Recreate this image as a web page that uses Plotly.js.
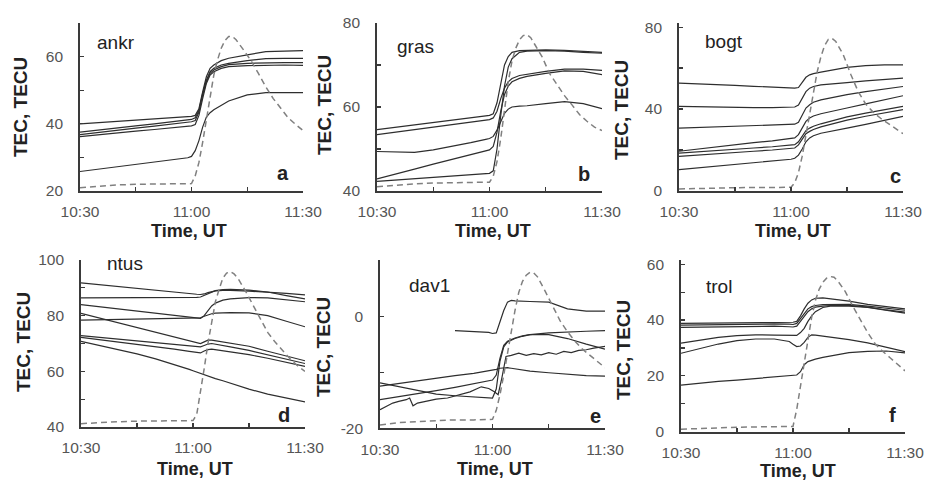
<!DOCTYPE html>
<html><head><meta charset="utf-8">
<script src="https://cdn.plot.ly/plotly-3.0.1.min.js"></script>
<style>html,body{margin:0;padding:0;background:#fff}#chart{width:927px;height:486px}</style>
</head><body><div id="chart"></div>
<script>
// ---- time axes (minutes after 10:30 UT) ----
const timeTickVals = [0, 15, 30, 45, 60];
const timeTickText = ['10:30', '', '11:00', '', '11:30'];
const tecMinutes = [0, 5, 10, 15, 20, 25, 29, 30, 31, 32, 33, 34, 35, 36, 38, 40, 45, 50, 55, 60];
const flareMinutes = [0, 5, 10, 15, 20, 25, 30, 31, 32, 33, 34, 35, 36, 37, 38, 39, 40, 41, 42, 44, 46, 48, 50, 52, 54, 56, 58, 60];
const dav1NoisyMinutes = [0, 2, 3.4, 5, 7, 7.9, 8.8, 10, 12.4, 15, 18, 21.4, 24, 27, 29, 30.5, 31.5, 32.5, 33.6, 35, 37, 39, 41, 43, 45, 47, 49, 51, 53, 55, 57, 60];

const stations = ['ankr', 'gras', 'bogt', 'ntus', 'dav1', 'trol'];
const panelLetters = ['a', 'b', 'c', 'd', 'e', 'f'];

// ---- TEC series (TECU) ----
const ankrTEC = [
  [40.0, 40.4, 40.7, 41.1, 41.4, 41.8, 42.1, 42.2, 42.5, 44.5, 49.5, 54.0, 56.5, 57.5, 58.8, 59.5, 60.5, 61.5, 61.6, 61.8],
  [37.5, 38.2, 38.8, 39.4, 40.0, 40.6, 41.1, 41.3, 41.8, 44.0, 49.0, 53.0, 55.5, 56.5, 57.5, 58.0, 58.8, 59.4, 59.5, 59.5],
  [36.8, 37.5, 38.1, 38.7, 39.3, 39.9, 40.4, 40.6, 41.0, 43.5, 48.5, 52.5, 55.0, 56.0, 57.0, 57.6, 58.0, 58.2, 58.2, 58.2],
  [36.2, 36.8, 37.3, 37.8, 38.3, 38.8, 39.2, 39.4, 39.8, 42.5, 47.5, 52.0, 54.5, 55.5, 56.5, 57.0, 57.3, 57.5, 57.5, 57.4],
  [25.8, 26.5, 27.2, 27.9, 28.5, 29.2, 29.9, 30.3, 32.0, 35.0, 39.0, 42.0, 43.3, 44.2, 45.5, 46.8, 48.6, 49.3, 49.3, 49.3]
];
const grasTEC = [
  [54.6, 55.2, 55.8, 56.4, 57.0, 57.5, 57.9, 58.0, 58.4, 61.0, 66.0, 70.0, 72.0, 73.0, 73.4, 73.5, 73.6, 73.5, 73.3, 73.0],
  [53.4, 54.0, 54.6, 55.2, 55.8, 56.4, 56.9, 57.0, 57.4, 59.0, 62.0, 64.5, 66.0, 66.8, 67.5, 67.8, 68.5, 69.0, 69.0, 68.7],
  [49.4, 49.3, 49.2, 49.8, 50.6, 51.5, 52.3, 52.5, 53.0, 54.5, 56.5, 58.5, 59.5, 60.0, 60.2, 60.3, 60.8, 61.3, 60.8, 59.6],
  [42.9, 44.0, 45.2, 46.4, 47.5, 48.6, 49.5, 49.8, 50.6, 54.0, 59.0, 63.0, 65.0, 66.0, 66.8, 67.3, 68.0, 68.6, 68.5, 67.7],
  [42.3, 42.6, 42.9, 43.2, 43.5, 43.8, 44.1, 44.2, 44.8, 50.0, 58.0, 65.0, 69.5, 71.5, 73.0, 73.3, 73.4, 73.3, 73.0, 72.8]
];
const bogtTEC = [
  [52.7, 52.4, 52.1, 51.6, 51.1, 50.7, 50.4, 50.3, 50.2, 50.5, 53.0, 55.5, 56.7, 57.3, 58.0, 58.6, 60.3, 61.2, 61.6, 61.6],
  [41.3, 41.1, 40.9, 40.8, 40.7, 40.7, 40.8, 40.8, 41.0, 42.0, 45.5, 48.5, 50.2, 51.0, 51.8, 52.2, 52.9, 53.8, 54.5, 55.1],
  [30.7, 31.0, 31.3, 31.6, 31.9, 32.1, 32.3, 32.4, 32.6, 33.5, 37.0, 40.5, 42.1, 43.3, 44.5, 45.3, 47.0, 48.5, 49.8, 51.0],
  [19.4, 20.5, 21.6, 22.6, 23.6, 24.5, 25.3, 25.5, 25.9, 27.5, 31.0, 34.0, 35.6, 36.6, 37.7, 38.6, 40.5, 42.5, 44.5, 46.5],
  [18.5, 19.2, 19.8, 20.4, 21.0, 21.6, 22.2, 22.4, 22.6, 24.0, 27.0, 29.5, 30.7, 31.6, 32.8, 33.8, 36.2, 38.0, 39.8, 41.3],
  [16.9, 17.6, 18.2, 18.8, 19.4, 20.0, 20.6, 20.8, 21.0, 22.5, 25.5, 28.0, 29.1, 30.0, 31.3, 32.3, 34.6, 36.5, 38.2, 39.7],
  [10.4, 11.2, 12.0, 12.8, 13.6, 14.4, 15.2, 15.5, 16.0, 17.5, 20.5, 24.0, 25.9, 27.0, 28.2, 29.0, 30.7, 32.5, 34.5, 36.4]
];
const ntusTEC = [
  [91.8, 91.1, 90.4, 89.7, 89.0, 88.4, 87.9, 87.8, 87.7, 87.6, 87.8, 88.3, 88.7, 88.9, 89.1, 89.1, 88.8, 88.5, 88.0, 87.5],
  [86.4, 86.4, 86.4, 86.4, 86.5, 86.5, 86.5, 86.5, 86.6, 86.7, 87.3, 88.0, 88.6, 89.0, 89.4, 89.5, 89.2, 88.5, 87.2, 86.0],
  [84.0, 83.2, 82.4, 81.6, 80.8, 80.1, 79.4, 79.2, 79.0, 79.0, 80.0, 81.8, 83.5, 84.5, 85.6, 86.0, 86.5, 86.4, 85.8, 85.0],
  [78.4, 78.5, 78.6, 78.7, 78.8, 78.9, 79.0, 79.0, 79.0, 79.2, 79.8, 80.3, 80.7, 80.9, 81.0, 81.1, 81.0, 80.0, 78.0, 76.0],
  [80.8, 79.1, 77.4, 75.7, 74.0, 72.3, 70.9, 70.5, 70.2, 70.0, 70.6, 71.2, 71.2, 71.0, 70.6, 70.2, 69.0, 67.2, 65.5, 63.8],
  [72.8, 72.2, 71.6, 71.0, 70.4, 69.8, 69.2, 69.0, 68.9, 68.8, 69.3, 69.8, 70.0, 69.8, 69.3, 68.8, 67.5, 66.0, 64.4, 62.8],
  [72.2, 71.4, 70.5, 69.6, 68.8, 68.0, 67.2, 67.0, 66.8, 66.6, 67.3, 67.8, 68.0, 67.8, 67.4, 67.0, 66.0, 64.7, 63.3, 61.8],
  [70.8, 69.3, 67.7, 66.3, 64.5, 62.5, 60.7, 60.2, 59.7, 59.3, 58.8, 58.3, 57.9, 57.4, 56.6, 55.7, 53.6, 51.8, 50.3, 49.0]
];
const dav1TEC = [
  [null, null, null, null, -2.6, -2.7, -2.9, -3.1, -3.0, -1.0, 1.0, 2.5, 2.8, 2.7, 2.6, 2.6, 2.5, 1.3, 0.9, 0.9],
  [-11.9, -12.6, -13.3, -13.9, -14.2, -14.4, -14.6, -14.6, -13.0, -8.0, -5.5, -4.6, -4.3, -4.0, -3.6, -3.3, -3.0, -2.8, -2.7, -2.6],
  [-14.9, -14.4, -13.9, -13.3, -12.7, -12.1, -11.6, -11.4, -10.5, -7.5, -5.2, -4.5, -4.2, -3.9, -3.5, -3.3, -3.3, -4.0, -5.0, -5.9],
  [-12.5, -12.0, -11.5, -11.0, -10.6, -10.2, -9.8, -9.7, -9.5, -9.3, -9.2, -9.2, -9.3, -9.4, -9.6, -9.8, -10.1, -10.4, -10.6, -10.7]
];
const dav1NoisyTEC = [-16.7, -16.0, -15.5, -15.2, -14.9, -14.6, -16.0, -15.5, -15.2, -14.8, -14.6, -14.0, -13.5, -12.6, -12.9, -13.5, -14.0, -11.0, -7.2, -7.0, -6.6, -7.0, -6.7, -6.9, -6.5, -6.8, -6.3, -6.5, -6.1, -6.0, -5.7, -5.4];
const trolTEC = [
  [38.8, 38.9, 39.0, 39.1, 39.2, 39.3, 39.3, 39.2, 39.5, 41.5, 44.0, 46.0, 47.2, 47.8, 47.9, 47.6, 46.8, 45.6, 44.7, 44.0],
  [38.2, 38.3, 38.4, 38.5, 38.6, 38.6, 38.5, 38.4, 38.8, 40.5, 42.5, 44.0, 44.8, 45.2, 45.5, 45.6, 45.6, 45.0, 44.2, 43.5],
  [37.4, 37.5, 37.6, 37.7, 37.8, 37.8, 37.6, 37.5, 37.8, 39.5, 41.5, 43.0, 44.0, 44.6, 45.0, 45.2, 45.3, 44.6, 43.6, 42.8],
  [31.7, 32.8, 33.8, 34.4, 34.7, 34.6, 34.4, 34.3, 34.5, 35.5, 37.0, 39.5, 41.5, 43.0, 44.5, 45.0, 45.0, 44.5, 43.5, 42.5],
  [28.1, 29.8, 31.4, 32.6, 33.2, 33.2, 32.3, 31.3, 30.5, 30.7, 32.0, 33.8, 34.7, 34.6, 34.3, 34.0, 33.0, 31.8, 30.3, 28.7],
  [16.7, 17.4, 18.0, 18.5, 19.0, 19.5, 19.9, 20.0, 20.3, 21.5, 24.0, 25.1, 25.6, 26.0, 26.6, 27.1, 28.3, 28.8, 28.9, 28.2]
];

// ---- flare profile (dashed), scaled to each panel ----
const ankrFlare = [21.0, 21.5, 21.8, 22.0, 22.0, 22.1, 22.2, 24.5, 28.5, 34.5, 41.5, 48.5, 54.5, 59.0, 62.5, 64.8, 66.0, 66.0, 65.0, 62.0, 58.8, 55.0, 51.0, 47.5, 44.5, 41.8, 39.8, 38.0];
const grasFlare = [41.0, 41.4, 41.7, 41.9, 42.0, 42.0, 42.1, 43.5, 47.0, 52.5, 59.0, 66.0, 71.0, 74.0, 76.0, 77.0, 77.2, 76.5, 75.0, 72.0, 68.0, 65.2, 62.7, 60.5, 58.2, 56.6, 55.2, 54.4];
const bogtFlare = [1.0, 1.3, 1.5, 1.6, 1.7, 1.7, 1.8, 4.0, 9.0, 17.0, 27.0, 38.0, 48.5, 58.0, 65.5, 71.0, 74.0, 74.5, 73.0, 66.5, 57.0, 48.5, 42.5, 38.5, 35.5, 33.0, 30.5, 28.0];
const ntusFlare = [41.2, 41.6, 41.9, 42.1, 42.2, 42.2, 42.3, 44.5, 52.0, 61.0, 70.0, 78.0, 85.0, 89.5, 93.5, 95.3, 95.8, 95.0, 93.5, 89.0, 84.0, 78.5, 74.0, 70.5, 67.5, 64.5, 62.0, 60.0];
const dav1Flare = [-19.4, -19.0, -18.8, -18.6, -18.5, -18.5, -18.4, -16.8, -14.0, -10.5, -6.5, -2.5, 1.0, 4.2, 6.2, 7.3, 7.8, 7.7, 7.0, 4.5, 1.8, -0.8, -2.8, -4.5, -5.9, -7.0, -8.1, -9.2];
const trolFlare = [0.9, 1.2, 1.4, 1.6, 1.7, 1.8, 1.9, 8.0, 16.5, 25.0, 33.5, 41.0, 47.0, 51.0, 53.5, 55.0, 55.6, 55.3, 54.0, 50.2, 45.0, 40.0, 35.5, 31.5, 28.8, 26.5, 24.0, 21.8];

// ---- y tick labels ----
const yTickVals = [
  [20, 30, 40, 50, 60], [40, 50, 60, 70, 80], [0, 20, 40, 60, 80],
  [40, 50, 60, 70, 80, 90, 100], [-20, -10, 0, 10], [0, 10, 20, 30, 40, 50, 60]
];
const yTickText = [
  ['20', '', '40', '', '60'], ['40', '', '60', '', '80'], ['0', '', '40', '', '80'],
  ['40', '', '60', '', '80', '', '100'], ['-20', '', '0', ''], ['0', '', '20', '', '40', '', '60']
];

// ---- layout geometry (pixels) ----
const W = 927, H = 486;
const panelBox = [ // [left, right, top, bottom] of plot area in px
  [80, 303, 23, 191], [377, 602, 23, 191], [679, 903, 23, 191],
  [81, 305, 260, 427], [380, 605, 260, 428.3], [681, 905, 260, 431.7]
];
const yRanges = [[20, 70], [40, 80], [0, 82], [40, 100], [-20, 10], [0, 61.5]];
const tecTitlePos = [[21, 107], [325, 105], [622, 110], [23, 342], [323, 347], [623, 350]];
const timeTitlePos = [[189, 231], [493, 231], [793, 231], [195, 469], [495, 469], [798, 471]];
const stationPos = [[95, 43], [395, 46], [703, 42], [105, 263], [407, 285], [704, 286]];
const letterPos = [[283, 173], [584, 174], [895, 176], [284, 415], [595, 416], [892, 415]];

const tecSets = [ankrTEC, grasTEC, bogtTEC, ntusTEC, dav1TEC, trolTEC];
const flareSets = [ankrFlare, grasFlare, bogtFlare, ntusFlare, dav1Flare, trolFlare];

const FONT = 'Liberation Sans, Arial, sans-serif';
const solid = {color: '#2e2e2e', width: 1.2};
const dashed = {color: '#808080', width: 1.5, dash: '6px,4px'};

const traces = [];
const layout = {
  width: W, height: H, margin: {l: 0, r: 0, t: 0, b: 0},
  paper_bgcolor: '#fff', plot_bgcolor: '#fff', showlegend: false,
  font: {family: FONT, color: '#222'},
  annotations: []
};

for (let i = 0; i < 6; i++) {
  const n = i === 0 ? '' : String(i + 1);
  const xa = 'x' + n, ya = 'y' + n;
  tecSets[i].forEach(s => traces.push({x: tecMinutes, y: s, xaxis: xa, yaxis: ya, type: 'scatter', mode: 'lines', line: solid, hoverinfo: 'skip'}));
  if (i === 4) traces.push({x: dav1NoisyMinutes, y: dav1NoisyTEC, xaxis: xa, yaxis: ya, type: 'scatter', mode: 'lines', line: solid, hoverinfo: 'skip'});
  traces.push({x: flareMinutes, y: flareSets[i], xaxis: xa, yaxis: ya, type: 'scatter', mode: 'lines', line: dashed, hoverinfo: 'skip'});

  const [l, r, t, b] = panelBox[i];
  const common = {showgrid: false, zeroline: false, showline: true, linecolor: '#3a3a3a', linewidth: 1.8,
    ticks: 'inside', ticklen: 4, tickwidth: 1.2, tickcolor: '#3a3a3a', fixedrange: true,
    tickfont: {family: FONT, size: 15.5, color: '#555'}};
  layout['xaxis' + n] = Object.assign({}, common, {
    domain: [l / W, r / W], anchor: ya, range: [0, 60],
    tickmode: 'array', tickvals: timeTickVals, ticktext: timeTickText, ticklabelstandoff: 6
  });
  layout['yaxis' + n] = Object.assign({}, common, {
    domain: [1 - b / H, 1 - t / H], anchor: xa, range: yRanges[i],
    tickmode: 'array', tickvals: yTickVals[i], ticktext: yTickText[i], ticklabelstandoff: 12
  });

  const ann = layout.annotations;
  ann.push({text: 'TEC, TECU', xref: 'paper', yref: 'paper', x: tecTitlePos[i][0] / W, y: 1 - tecTitlePos[i][1] / H,
    textangle: -90, showarrow: false, xanchor: 'center', yanchor: 'middle',
    font: {family: FONT, size: 19, weight: 'bold', color: '#222'}});
  ann.push({text: 'Time, UT', xref: 'paper', yref: 'paper', x: timeTitlePos[i][0] / W, y: 1 - timeTitlePos[i][1] / H,
    showarrow: false, xanchor: 'center', yanchor: 'middle',
    font: {family: FONT, size: 18, weight: 'bold', color: '#222'}});
  ann.push({text: stations[i], xref: 'paper', yref: 'paper', x: stationPos[i][0] / W, y: 1 - stationPos[i][1] / H,
    showarrow: false, xanchor: 'left', yanchor: 'middle',
    font: {family: FONT, size: 19, color: '#222'}});
  ann.push({text: panelLetters[i], xref: 'paper', yref: 'paper', x: letterPos[i][0] / W, y: 1 - letterPos[i][1] / H,
    showarrow: false, xanchor: 'center', yanchor: 'middle',
    font: {family: FONT, size: 20, weight: 'bold', color: '#222'}});
}

Plotly.newPlot('chart', traces, layout, {staticPlot: true, displayModeBar: false});
</script>
</body></html>
